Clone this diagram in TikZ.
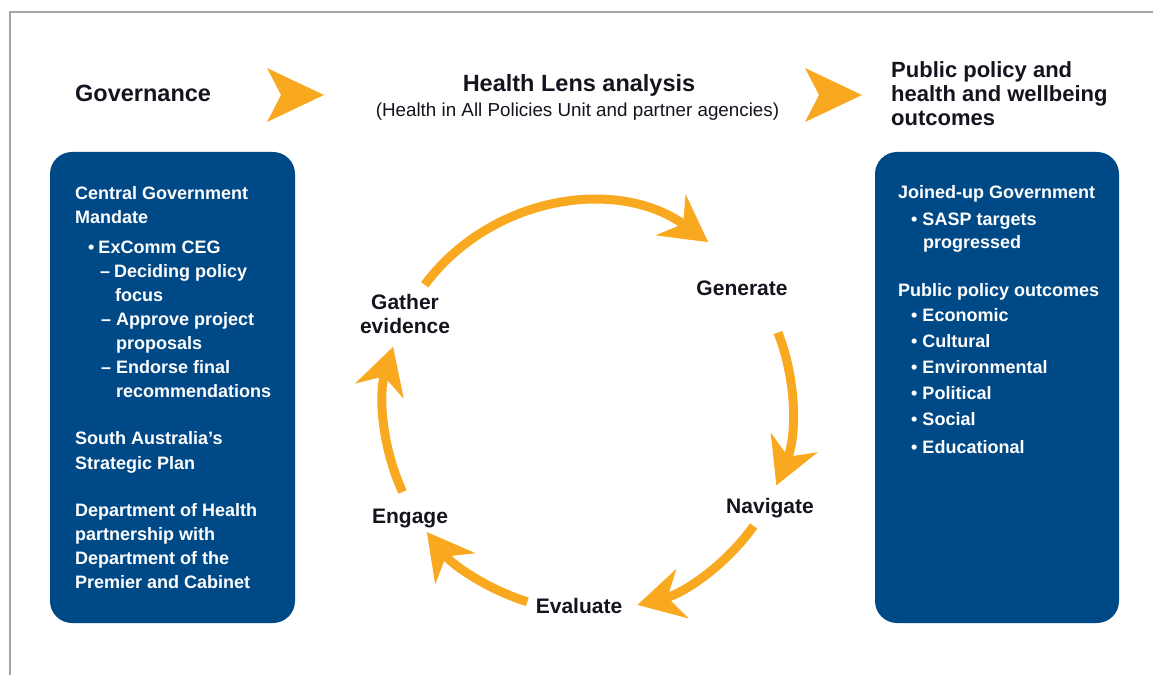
\documentclass[tikz,border=0pt]{standalone}
\usepackage{fontspec}
\setmainfont{Liberation Sans}
\usepackage{tikz}
\usetikzlibrary{arrows.meta}
\definecolor{lensblue}{RGB}{0,73,135}
\definecolor{lensorange}{RGB}{248,169,32}
\definecolor{framegray}{RGB}{165,165,165}
\definecolor{inkdark}{RGB}{20,20,30}

\begin{document}
\begin{tikzpicture}[x=1pt, y=1pt,
    panel/.style={fill=lensblue, rounded corners=22pt},
    chevron/.style={fill=lensorange},
    cyclearrow/.style={draw=lensorange, line width=9pt, -{Stealth[length=46pt, width=50pt, inset=15pt]}},
    heading/.style={inner sep=0pt, text=inkdark, font=\fontsize{23.5}{28}\selectfont\bfseries},
    subheading/.style={inner sep=0pt, text=inkdark, font=\fontsize{18.8}{22}\selectfont},
    paneltext/.style={inner sep=0pt, anchor=base west, text=white, font=\fontsize{18}{24}\selectfont\bfseries},
    steplabel/.style={inner sep=0pt, text=inkdark, font=\fontsize{21}{24}\selectfont\bfseries}]

    \useasboundingbox (0,0) rectangle (1153,675);

    % Frame
    \draw[framegray, line width=1.5pt] (10,0) -- (10,663) -- (1153,663);

    % Headings
    \node[heading, anchor=base west] (govhead) at (75,573) {Governance};
    \node[heading, anchor=base] (lenshead) at (579,583) {Health Lens analysis};
    \node[subheading, anchor=base] (lenssub) at (577.5,558.5) {(Health in All Policies Unit and partner agencies)};
    \foreach \i/\y/\t in {1/597/Public policy and, 2/573/health and wellbeing, 3/549/outcomes}
        \node[heading, font=\fontsize{22}{24}\selectfont\bfseries, anchor=base west] (outhead\i) at (891,\y) {\t};

    % Chevrons
    \foreach \bx in {267,805}
        \fill[chevron] (\bx,607) -- (\bx+57,580) -- (\bx,553) -- (\bx+14,580) -- cycle;

    % Panels
    \fill[panel] (50,52) rectangle (295,523);
    \fill[panel] (875,52) rectangle (1119,523);

    % Governance panel
    \foreach \i/\x/\y/\t in {1/75/475/Central Government, 2/75/451/Mandate,
        3/88/421/\textbullet\hspace{4pt}ExComm CEG,
        4/100/397/–\hspace{4pt}Deciding policy, 5/115/373/focus,
        6/101/349/–\hspace{5pt}Approve project, 7/116/325/proposals,
        8/101/301/–\hspace{5pt}Endorse final, 9/116/277/recommendations,
        10/75/230/South Australia’s, 11/75/206/Strategic Plan,
        12/75/159/Department of Health, 13/75/135/partnership with,
        14/75/111/Department of the, 15/75/87/Premier and Cabinet}
        \node[paneltext] (gov\i) at (\x,\y) {\t};

    % Outcomes panel
    \foreach \i/\x/\y/\t in {1/898/476/Joined-up Government,
        2/911/449/\textbullet\hspace{5pt}SASP targets, 3/923/426/progressed,
        4/898/378/Public policy outcomes,
        5/911/353/\textbullet\hspace{5pt}Economic, 6/911/327/\textbullet\hspace{5pt}Cultural,
        7/911/301/\textbullet\hspace{5pt}Environmental, 8/911/275/\textbullet\hspace{5pt}Political,
        9/911/249/\textbullet\hspace{5pt}Social, 10/911/222/\textbullet\hspace{5pt}Educational}
        \node[paneltext] (out\i) at (\x,\y) {\t};

    % Cycle labels
    \coordinate (hub) at (588,268);
    \node[steplabel, align=center] (gather) at (405,361.5) {Gather\\evidence};
    \node[steplabel, anchor=base] (generate) at (742,379) {Generate};
    \node[steplabel, anchor=base] (navigate) at (770,162) {Navigate};
    \node[steplabel, anchor=base] (evaluate) at (579,62) {Evaluate};
    \node[steplabel, anchor=base] (engage) at (410,152) {Engage};

    % Cycle arrows
    \foreach \from/\to in {143.2/53.9, 21.4/-22.6, -35.7/-76, 252.7/217.8, 204.6/162.8}
        \draw[cyclearrow] ([shift={(\from:204)}]hub) arc[start angle=\from, end angle=\to, radius=204];
\end{tikzpicture}
\end{document}
